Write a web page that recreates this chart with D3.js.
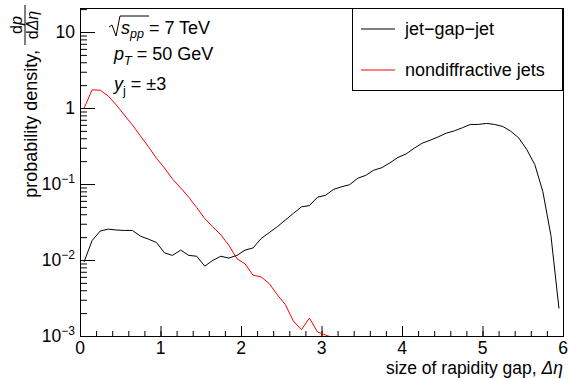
<!DOCTYPE html>
<html>
<head>
<meta charset="utf-8">
<script src="https://cdn.jsdelivr.net/npm/d3@7"></script>
<style>
  body { margin: 0; background: #fff; }
  svg { display: block; }
  svg text { font-family: "Liberation Sans", Arial, Helvetica, sans-serif; }
</style>
</head>
<body>
<div id="chart"></div>
<script>
// bin centres of the rapidity gap histogram
var gapBins = [0.05, 0.15, 0.25, 0.35, 0.45, 0.55, 0.65, 0.75, 0.85, 0.95,
    1.05, 1.15, 1.25, 1.35, 1.45, 1.55, 1.65, 1.75, 1.85, 1.95,
    2.05, 2.15, 2.25, 2.35, 2.45, 2.55, 2.65, 2.75, 2.85, 2.95,
    3.05, 3.15, 3.25, 3.35, 3.45, 3.55, 3.65, 3.75, 3.85, 3.95,
    4.05, 4.15, 4.25, 4.35, 4.45, 4.55, 4.65, 4.75, 4.85, 4.95,
    5.05, 5.15, 5.25, 5.35, 5.45, 5.55, 5.65, 5.75, 5.85, 5.95];

// jet-gap-jet probability density
var jetGapJet = [0.0094, 0.018, 0.024, 0.0255, 0.0248, 0.0245, 0.0245, 0.0206, 0.0188, 0.017,
    0.0124, 0.0115, 0.0135, 0.0115, 0.0112, 0.0083, 0.0099, 0.0112, 0.0106, 0.0115,
    0.0135, 0.0144, 0.0192, 0.0229, 0.0274, 0.0335, 0.041, 0.050, 0.052, 0.067,
    0.071, 0.085, 0.092, 0.098, 0.119, 0.130, 0.152, 0.164, 0.19, 0.224,
    0.248, 0.295, 0.344, 0.377, 0.417, 0.467, 0.50, 0.55, 0.608, 0.608,
    0.627, 0.608, 0.573, 0.496, 0.404, 0.284, 0.18, 0.079, 0.021, 0.0023];

// nondiffractive jets probability density (first 32 bins, the rest fall below the frame)
var nonDiff = [0.99, 1.73, 1.72, 1.44, 1.10, 0.81, 0.60, 0.43, 0.31, 0.218,
    0.162, 0.116, 0.089, 0.067, 0.049, 0.035, 0.0274, 0.0214, 0.0156, 0.0104,
    0.0089, 0.0063, 0.0060, 0.0049, 0.0035, 0.0026, 0.00158, 0.00121, 0.00172, 0.00113,
    0.00103, 0.00094];

var xTicks = [0, 1, 2, 3, 4, 5, 6];
var yTicks = [0.001, 0.01, 0.1, 1, 10];
var yTickBase = ["10", "10", "10", "1", "10"];
var yTickExp = ["\u22123", "\u22122", "\u22121", "", ""];

function draw() {
    var w = 569;
    var h = 379;
    var left = 80, right = 563, top = 8, bottom = 336;

    var svg = d3.select("#chart")
        .append("svg")
        .attr("width", w)
        .attr("height", h);

    var x = d3.scaleLinear().domain([0, 6]).range([left, right]);
    var y = d3.scaleLog().domain([0.001, 20.7]).range([bottom, top]);

    // minor ticks
    var xMinor = [];
    for (var i = 0; i <= 30; i++) xMinor.push(i * 0.2);
    var yMinor = [];
    for (var e = -3; e <= 1; e++)
        for (var m = 2; m <= 9; m++)
            if (m * Math.pow(10, e) < 20.7) yMinor.push(m * Math.pow(10, e));

    var axisStyle = function(g) {
        g.select(".domain").remove();
        g.selectAll("line").attr("stroke", "#000").attr("stroke-width", 1);
        g.selectAll("text").remove();
    };

    svg.append("g")
        .attr("transform", "translate(0," + bottom + ")")
        .call(d3.axisBottom(x).tickValues(xMinor).tickSize(-5).tickFormat(""))
        .call(axisStyle);
    svg.append("g")
        .attr("transform", "translate(0," + bottom + ")")
        .call(d3.axisBottom(x).tickValues(xTicks).tickSize(-10).tickFormat(""))
        .call(axisStyle);
    svg.append("g")
        .attr("transform", "translate(" + left + ",0)")
        .call(d3.axisLeft(y).tickValues(yMinor).tickSize(-7).tickFormat(""))
        .call(axisStyle);
    svg.append("g")
        .attr("transform", "translate(" + left + ",0)")
        .call(d3.axisLeft(y).tickValues(yTicks).tickSize(-15).tickFormat(""))
        .call(axisStyle);

    // frame
    svg.append("rect")
        .attr("x", left + 0.5).attr("y", top + 0.5)
        .attr("width", right - left).attr("height", bottom - top)
        .attr("fill", "none").attr("stroke", "#000").attr("stroke-width", 1);

    // x tick labels
    svg.selectAll(".xlab")
        .data(xTicks)
        .enter()
        .append("text")
        .attr("x", function(d) { return x(d); })
        .attr("y", 354)
        .attr("text-anchor", "middle")
        .attr("font-size", "17.5px")
        .text(function(d) { return d; });

    // y tick labels with exponents
    yTicks.forEach(function(v, k) {
        var t = svg.append("text")
            .attr("x", 75)
            .attr("y", y(v) + 6)
            .attr("text-anchor", "end")
            .attr("font-size", "17.5px");
        t.append("tspan").text(yTickBase[k]);
        if (yTickExp[k] != "") {
            t.append("tspan").attr("dy", -7).attr("font-size", "12px").text(yTickExp[k]);
        }
    });

    // x title
    var xt = svg.append("text")
        .attr("x", right)
        .attr("y", 374)
        .attr("text-anchor", "end")
        .attr("font-size", "17.5px");
    xt.append("tspan").text("size of rapidity gap, ");
    xt.append("tspan").attr("font-style", "italic").text("\u0394\u03b7");

    // y title with fraction
    var yt = svg.append("g").attr("transform", "translate(25,0) rotate(-90)");
    yt.append("text")
        .attr("x", -50).attr("y", 12)
        .attr("text-anchor", "end")
        .attr("font-size", "18px")
        .text("probability density,");
    yt.append("line")
        .attr("x1", -45).attr("x2", -5).attr("y1", 0).attr("y2", 0)
        .attr("stroke", "#000").attr("stroke-width", 1);
    var num = yt.append("text")
        .attr("x", -25).attr("y", -3)
        .attr("text-anchor", "middle")
        .attr("font-size", "16px");
    num.append("tspan").text("d");
    num.append("tspan").attr("font-style", "italic").text("p");
    var den = yt.append("text")
        .attr("x", -25).attr("y", 13)
        .attr("text-anchor", "middle")
        .attr("font-size", "16px");
    den.append("tspan").text("d");
    den.append("tspan").attr("font-style", "italic").text("\u0394\u03b7");

    // curves, clipped to the frame
    svg.append("clipPath").attr("id", "clip")
        .append("rect")
        .attr("x", left).attr("y", top)
        .attr("width", right - left).attr("height", bottom - top);

    var line = d3.line()
        .x(function(d) { return x(d[0]); })
        .y(function(d) { return y(d[1]); });

    var plot = svg.append("g").attr("clip-path", "url(#clip)");
    plot.append("path")
        .datum(jetGapJet.map(function(v, k) { return [gapBins[k], v]; }))
        .attr("d", line)
        .attr("fill", "none")
        .attr("stroke", "#000")
        .attr("stroke-width", 1);
    plot.append("path")
        .datum(nonDiff.map(function(v, k) { return [gapBins[k], v]; }))
        .attr("d", line)
        .attr("fill", "none")
        .attr("stroke", "#ff0000")
        .attr("stroke-width", 1);

    // annotation
    svg.append("path")
        .attr("d", "M109,27 L112,25 L116,36 L120,16 L149,16")
        .attr("fill", "none").attr("stroke", "#000").attr("stroke-width", 1);
    var a1 = svg.append("text").attr("x", 121).attr("y", 34).attr("font-size", "18px");
    a1.append("tspan").attr("font-style", "italic").text("s");
    a1.append("tspan").attr("font-style", "italic").attr("font-size", "12.5px").attr("dy", 4).text("pp");
    a1.append("tspan").attr("dy", -4).text(" = 7 TeV");

    var a2 = svg.append("text").attr("x", 114).attr("y", 60).attr("font-size", "18px");
    a2.append("tspan").attr("font-style", "italic").text("p");
    a2.append("tspan").attr("font-style", "italic").attr("font-size", "12.5px").attr("dy", 5).text("T");
    a2.append("tspan").attr("dy", -5).text(" = 50 GeV");

    var a3 = svg.append("text").attr("x", 114).attr("y", 90).attr("font-size", "18px");
    a3.append("tspan").attr("font-style", "italic").text("y");
    a3.append("tspan").attr("font-size", "12.5px").attr("dy", 5).text("j");
    a3.append("tspan").attr("dy", -5).text(" = \u00b13");

    // legend
    svg.append("rect")
        .attr("x", 352.5).attr("y", 8.5)
        .attr("width", 210).attr("height", 82)
        .attr("fill", "#fff").attr("stroke", "#000").attr("stroke-width", 1);
    var legendNames = ["jet\u2212gap\u2212jet", "nondiffractive jets"];
    var legendColors = ["#000", "#ff0000"];
    var legendY = [29, 70];
    legendNames.forEach(function(name, k) {
        svg.append("line")
            .attr("x1", 361).attr("x2", 395)
            .attr("y1", legendY[k]).attr("y2", legendY[k])
            .attr("stroke", legendColors[k]).attr("stroke-width", 1);
        svg.append("text")
            .attr("x", 405).attr("y", legendY[k] + 6)
            .attr("font-size", "18px")
            .text(name);
    });
}

window.onload = draw;
</script>
</body>
</html>
